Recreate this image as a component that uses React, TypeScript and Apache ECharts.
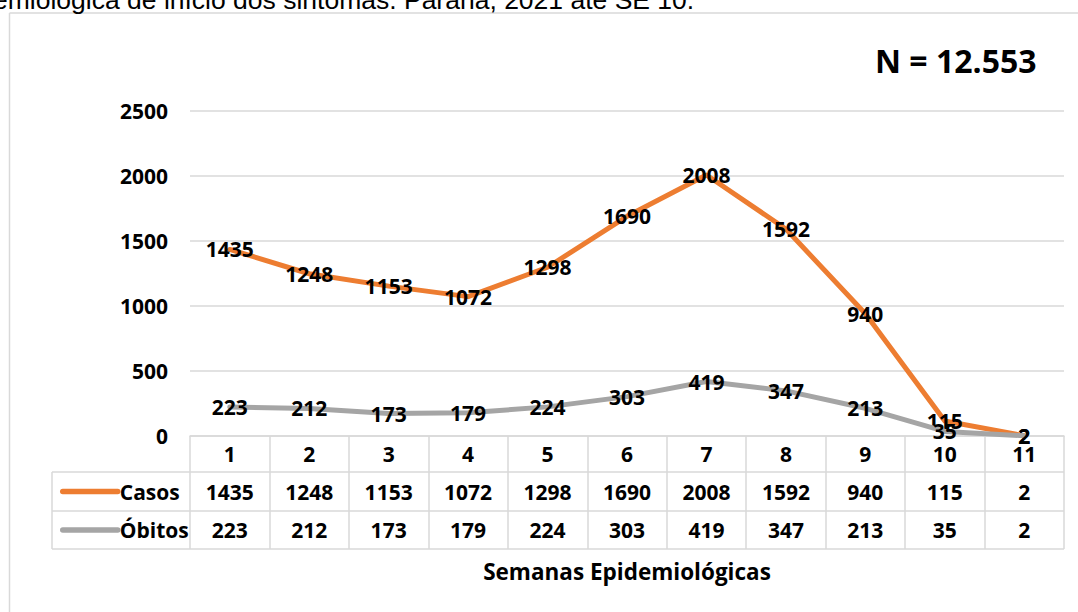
import React, { useEffect, useRef } from "react";
import * as echarts from "echarts";

const categories = ["1", "2", "3", "4", "5", "6", "7", "8", "9", "10", "11"];
const casos = [1435, 1248, 1153, 1072, 1298, 1690, 2008, 1592, 940, 115, 2];
const obitos = [223, 212, 173, 179, 224, 303, 419, 347, 213, 35, 2];
const seriesNames = ["Casos", "Óbitos"];
const seriesColors = ["#ED7D31", "#A5A5A5"];
const yMin = 0;
const yMax = 2500;
const yInterval = 500;
const totalLabel = "N = 12.553";
const captionText = "emiológica de início dos sintomas. Paraná, 2021 até SE 10.";
const axisTitle = "Semanas Epidemiológicas";

const FONT = "'Open Sans', 'Noto Sans', sans-serif";
const GRID_COLOR = "#d9d9d9";

const GRID_LEFT = 190;
const GRID_RIGHT_X = 1064;
const GRID_TOP = 111;
const AXIS_Y = 436;
const ROW1 = 472;
const ROW2 = 511;
const ROW3 = 549;
const TABLE_LEFT = 52;

const boldLabel = {
  fontFamily: FONT,
  fontSize: 21,
  fontWeight: "bold" as const,
  color: "#000",
};

export default function App() {
  const ref = useRef<HTMLDivElement>(null);

  useEffect(() => {
    if (!ref.current) return;
    const chart = echarts.init(ref.current, null, { renderer: "svg" });

    const tableLine = (x1: number, y1: number, x2: number, y2: number) => ({
      type: "line",
      silent: true,
      shape: { x1, y1, x2, y2 },
      style: { stroke: GRID_COLOR, lineWidth: 1.5 },
    });

    const valueAxis = (values: number[], margin: number, extra: any = {}) => ({
      type: "category",
      position: "bottom",
      gridIndex: 0,
      data: values.map(String),
      axisLine: { show: false },
      axisTick: { show: false },
      splitLine: { show: false },
      axisLabel: { ...boldLabel, interval: 0, margin, verticalAlign: "middle" },
      ...extra,
    });

    chart.setOption({
      animation: false,
      backgroundColor: "#ffffff",
      textStyle: { fontFamily: FONT },
      grid: {
        left: GRID_LEFT,
        right: 1078 - GRID_RIGHT_X,
        top: GRID_TOP,
        bottom: 612 - AXIS_Y,
      },
      legend: {
        data: seriesNames,
        orient: "vertical",
        left: 60,
        top: (ROW1 + ROW2) / 2 - 10.5,
        padding: 0,
        itemWidth: 55,
        itemHeight: 6,
        itemGap: (ROW2 + ROW3) / 2 - (ROW1 + ROW2) / 2 - 21,
        selectedMode: false,
        textStyle: { ...boldLabel, lineHeight: 21, padding: [0, 0, 0, -3] },
        lineStyle: { width: 5.5, cap: "round" },
      },
      xAxis: [
        {
          type: "category",
          position: "bottom",
          data: categories,
          boundaryGap: true,
          axisLine: { show: true, lineStyle: { color: GRID_COLOR, width: 1.5 } },
          axisTick: {
            show: true,
            interval: 0,
            length: ROW3 - AXIS_Y,
            lineStyle: { color: GRID_COLOR, width: 1.5 },
          },
          splitLine: { show: false },
          axisLabel: { ...boldLabel, interval: 0, margin: (AXIS_Y + ROW1) / 2 - AXIS_Y, verticalAlign: "middle" },
        },
        valueAxis(casos, (ROW1 + ROW2) / 2 - AXIS_Y),
        valueAxis(obitos, (ROW2 + ROW3) / 2 - AXIS_Y, {
          name: axisTitle,
          nameLocation: "middle",
          nameGap: 571 - AXIS_Y,
          nameTextStyle: { ...boldLabel, fontSize: 22.5, verticalAlign: "middle" },
        }),
      ],
      yAxis: {
        type: "value",
        min: yMin,
        max: yMax,
        interval: yInterval,
        axisLine: { show: false },
        axisTick: { show: false },
        splitLine: { lineStyle: { color: GRID_COLOR, width: 1.5 } },
        axisLabel: { ...boldLabel, margin: 22, formatter: (v: number) => String(v) },
      },
      series: [casos, obitos].map((values, i) => ({
        type: "line",
        name: seriesNames[i],
        data: values,
        xAxisIndex: 0,
        yAxisIndex: 0,
        symbol: "circle",
        symbolSize: 2,
        showSymbol: true,
        itemStyle: { color: "transparent", borderWidth: 0 },
        color: seriesColors[i],
        lineStyle: { color: seriesColors[i], width: 5, cap: "round", join: "round" },
        label: { show: true, position: "inside", ...boldLabel },
        emphasis: { disabled: true },
        z: 2 + i,
      })),
      graphic: [
        tableLine(9.5, 13, 1078, 13),
        tableLine(9.5, 13, 9.5, 612),
        tableLine(TABLE_LEFT, ROW1, GRID_RIGHT_X, ROW1),
        tableLine(TABLE_LEFT, ROW2, GRID_RIGHT_X, ROW2),
        tableLine(TABLE_LEFT, ROW3, GRID_RIGHT_X, ROW3),
        tableLine(TABLE_LEFT, ROW1, TABLE_LEFT, ROW3),
        {
          type: "text",
          x: -7,
          y: 0,
          silent: true,
          style: {
            text: captionText,
            fontFamily: "'Liberation Sans', Arial, sans-serif",
            fontSize: 26.5,
            fill: "#000",
            verticalAlign: "middle",
          },
        },
        {
          type: "text",
          x: 875,
          y: 60,
          silent: true,
          style: {
            text: totalLabel,
            fontFamily: FONT,
            fontSize: 32,
            fontWeight: "bold",
            fill: "#000",
            verticalAlign: "middle",
          },
        },
      ],
    });

    return () => chart.dispose();
  }, []);

  return (
    <div
      ref={ref}
      style={{ position: "fixed", left: 0, top: 0, width: 1078, height: 612, background: "#fff" }}
    />
  );
}
